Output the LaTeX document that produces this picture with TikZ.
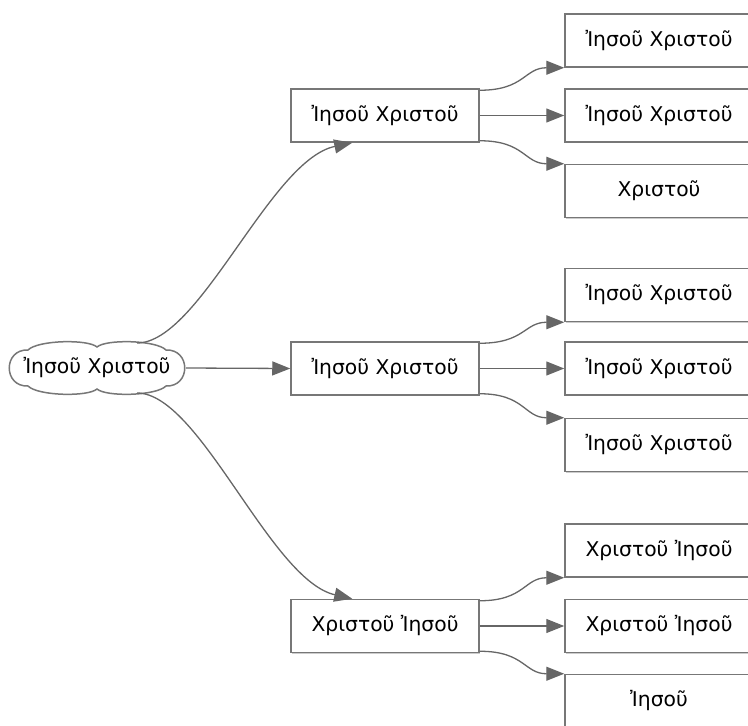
\documentclass[tikz,border=0pt]{standalone}
\usepackage{fontspec}
\setmainfont{DejaVu Sans}
\usetikzlibrary{arrows.meta,calc,shadows}
\definecolor{edgegray}{HTML}{666666}
\definecolor{boxgray}{HTML}{777777}
\tikzset{
  lbl/.style={font=\fontsize{20.3}{24}\selectfont},
  box/.style={lbl, draw=boxgray, line width=1.5pt, fill=white, minimum width=188pt, minimum height=53pt, inner sep=0pt,
    drop shadow={shadow xshift=1.2pt, shadow yshift=-1.2pt, opacity=0.2, fill=black}},
  link/.style={draw=edgegray, line width=1.3pt, -{Triangle[length=18pt,width=14pt]}},
}
\begin{document}
\begin{tikzpicture}[x=1pt,y=-1pt]
\useasboundingbox (0,0) rectangle (748,726);
\clip (0,0) rectangle (748,726);
% root cloud
\draw[draw=boxgray, line width=1.5pt, fill=white]
  (28,386) .. controls (3,387) and (3,349) .. (28,350)
  .. controls (38,340) and (88,339) .. (97,347)
  .. controls (106,339) and (156,340) .. (166,350)
  .. controls (191,349) and (191,387) .. (166,386)
  .. controls (156,396) and (106,397) .. (97,389)
  .. controls (88,397) and (38,396) .. (28,386) -- cycle;
\node[lbl, inner sep=0pt] (root) at (97,368) {Ἰησοῦ Χριστοῦ};
\coordinate (rtop) at (137,343);
\coordinate (rbot) at (137,393);
\coordinate (rright) at (186,368);
% middle column
\node[box] (m1) at (385,115.5) {Ἰησοῦ Χριστοῦ};
\node[box] (m2) at (385,368.5) {Ἰησοῦ Χριστοῦ};
\node[box] (m3) at (385,626) {Χριστοῦ Ἰησοῦ};
% right column
\node[box] (a1) at (659,40.5) {Ἰησοῦ Χριστοῦ};
\node[box] (a2) at (659,115.5) {Ἰησοῦ Χριστοῦ};
\node[box] (a3) at (659,191) {Χριστοῦ};
\node[box] (b1) at (659,295) {Ἰησοῦ Χριστοῦ};
\node[box] (b2) at (659,368.5) {Ἰησοῦ Χριστοῦ};
\node[box] (b3) at (659,445) {Ἰησοῦ Χριστοῦ};
\node[box] (c1) at (659,550.5) {Χριστοῦ Ἰησοῦ};
\node[box] (c2) at (659,626) {Χριστοῦ Ἰησοῦ};
\node[box] (c3) at (659,701) {Ἰησοῦ};
% root edges
\draw[link] (rtop) .. controls (200,343) and (270,160) .. ($(m1.south west)+(62,0)$);
\draw[link] (rright) -- (m2.west);
\draw[link] (rbot) .. controls (200,393) and (270,580) .. ($(m3.north west)+(62,0)$);
% group edges
\foreach \m/\p in {m1/a,m2/b,m3/c}{
  \draw[link] ($(\m.north east)+(0,2)$) .. controls ($(\m.north east)+(45,2)$) and ($(\p1.south west)+(-40,0)$) .. (\p1.south west);
  \draw[link] (\m.east) -- (\p2.west);
  \draw[link] ($(\m.south east)+(0,-2)$) .. controls ($(\m.south east)+(45,-2)$) and ($(\p3.north west)+(-40,0)$) .. (\p3.north west);
}
\end{tikzpicture}
\end{document}
